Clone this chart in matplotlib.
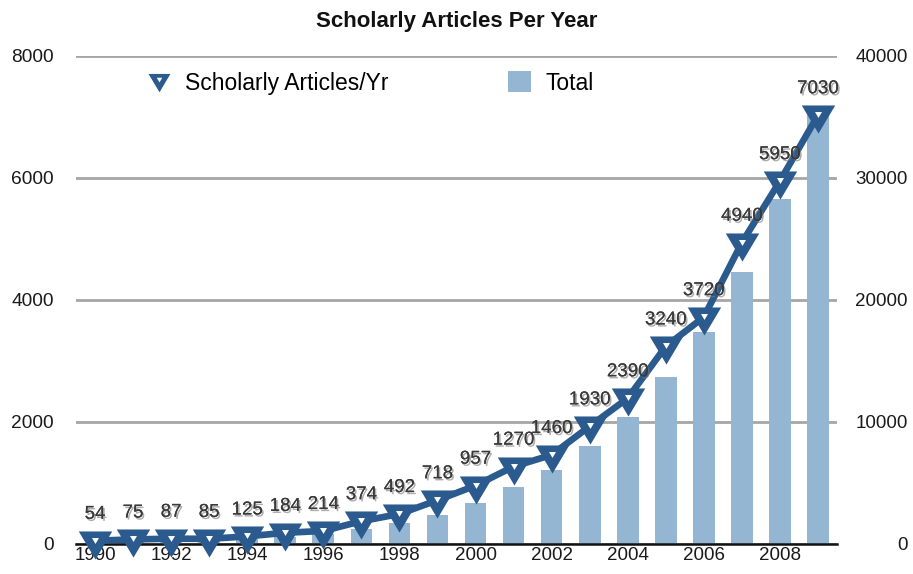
import matplotlib
matplotlib.use("Agg")
import matplotlib.pyplot as plt
import matplotlib.patheffects as pe
from matplotlib.lines import Line2D
from matplotlib.patches import Patch
from matplotlib.path import Path


plt.rcParams.update(
    {
        "font.family": ["Liberation Sans", "DejaVu Sans"],
        "font.size": 13.5,
    }
)

years = list(range(1990, 2010))
per_year = [54, 75, 87, 85, 125, 184, 214, 374, 492, 718,
            957, 1270, 1460, 1930, 2390, 3240, 3720, 4940, 5950, 7030]
totals = [54, 129, 216, 301, 426, 610, 824, 1198, 1690, 2408,
          3365, 4635, 6095, 8025, 10415, 13655, 17375, 22315, 28265, 35295]
left_ticks = [0, 2000, 4000, 6000, 8000]
right_ticks = [0, 10000, 20000, 30000, 40000]
x_ticks = list(range(1990, 2010, 2))

LINE = "#2a5a8e"
BAR = "#94b6d3"
GRID = "#a6a6a6"

# wide, flat down-pointing triangle, tip hanging below the data point
tri = Path([(-1.0, 0.6), (1.0, 0.6), (0.0, -1.08), (-1.0, 0.6)],
           [Path.MOVETO, Path.LINETO, Path.LINETO, Path.CLOSEPOLY])
# small white notch, sitting a bit above the point
notch = Path([(-1.0, 1.0), (1.0, 1.0), (0.0, -0.7), (-1.0, 1.0)],
             [Path.MOVETO, Path.LINETO, Path.LINETO, Path.CLOSEPOLY])


def main() -> None:
    fig = plt.figure(figsize=(9.13, 5.74), dpi=100)
    ax2 = fig.add_axes([76 / 913, 1 - 544 / 574, (837 - 76) / 913, (544 - 56) / 574])
    ax = ax2.twinx()
    # line axes on top, bars behind
    ax.set_zorder(ax2.get_zorder() + 1)
    ax.patch.set_visible(False)

    # bars (right scale)
    ax2.bar(years, totals, width=0.57, color=BAR, zorder=2)
    ax2.set_ylim(0, 40000)
    ax2.set_xlim(1989.5, 2009.5)
    ax2.set_yticks(right_ticks)
    ax2.yaxis.tick_right()
    ax2.grid(axis="y", color=GRID, linewidth=2.0, zorder=0)
    ax2.set_axisbelow(True)
    ax2.set_xticks(x_ticks)
    ax2.tick_params(axis="x", length=0, pad=2, labelsize=13.5, colors="#1a1a1a")
    ax2.tick_params(axis="y", length=0, pad=51, labelsize=13.5, colors="#1a1a1a")
    for lab in ax2.get_yticklabels():
        lab.set_horizontalalignment("right")

    # line (left scale)
    ax.yaxis.tick_left()
    ax.set_ylim(0, 8000)
    ax.set_yticks(left_ticks)
    ax.tick_params(axis="y", length=0, pad=16, labelsize=13.8, colors="#1a1a1a")
    ax.plot(years, per_year, color=LINE, linewidth=4.8, clip_on=False, zorder=3,
            solid_capstyle="round", solid_joinstyle="round")
    ax.plot(years, per_year, linestyle="none", marker=tri, markersize=26,
            markeredgewidth=0, color=LINE, clip_on=False, zorder=4)
    ax.plot(years, per_year, linestyle="none", marker=notch, markersize=5,
            markeredgewidth=0, color="white", clip_on=False, zorder=5)

    shadow = [pe.withSimplePatchShadow(offset=(1.2, -1.5), shadow_rgbFace="#777777", alpha=0.6),
              pe.Normal()]
    for x, v in zip(years, per_year):
        ax.annotate(str(v), (x, v), xytext=(0, 19), textcoords="offset points",
                    ha="center", va="center", fontsize=13.5, color="#3a3a3a",
                    path_effects=shadow, zorder=6)

    for a in (ax, ax2):
        for s in a.spines.values():
            s.set_visible(False)
    ax2.spines["bottom"].set_visible(True)
    ax2.spines["bottom"].set_linewidth(1.8)
    ax2.spines["bottom"].set_color("#111111")

    handles = [
        (Line2D([], [], linestyle="none", marker=tri, markersize=17, markeredgewidth=0,
                color=LINE),
         Line2D([], [], linestyle="none", marker=notch, markersize=4, markeredgewidth=0,
                color="white")),
        Patch(facecolor=BAR, edgecolor="none"),
    ]
    fig.legend(handles, ["Scholarly Articles/Yr", "Total"], loc="center left",
               bbox_to_anchor=(147.5 / 913, 1 - 83 / 574), ncol=2, frameon=False,
               fontsize=16.5, handlelength=1.0, handleheight=1.0, handletextpad=0.64,
               columnspacing=5.2, borderpad=0, borderaxespad=0)

    fig.text(0.5, 1 - 21 / 574, "Scholarly Articles Per Year", ha="center", va="center",
             fontsize=16, fontweight="bold", color="#111111")

    fig.savefig("out.png", dpi=100)
    plt.close(fig)


if __name__ == "__main__":
    main()
